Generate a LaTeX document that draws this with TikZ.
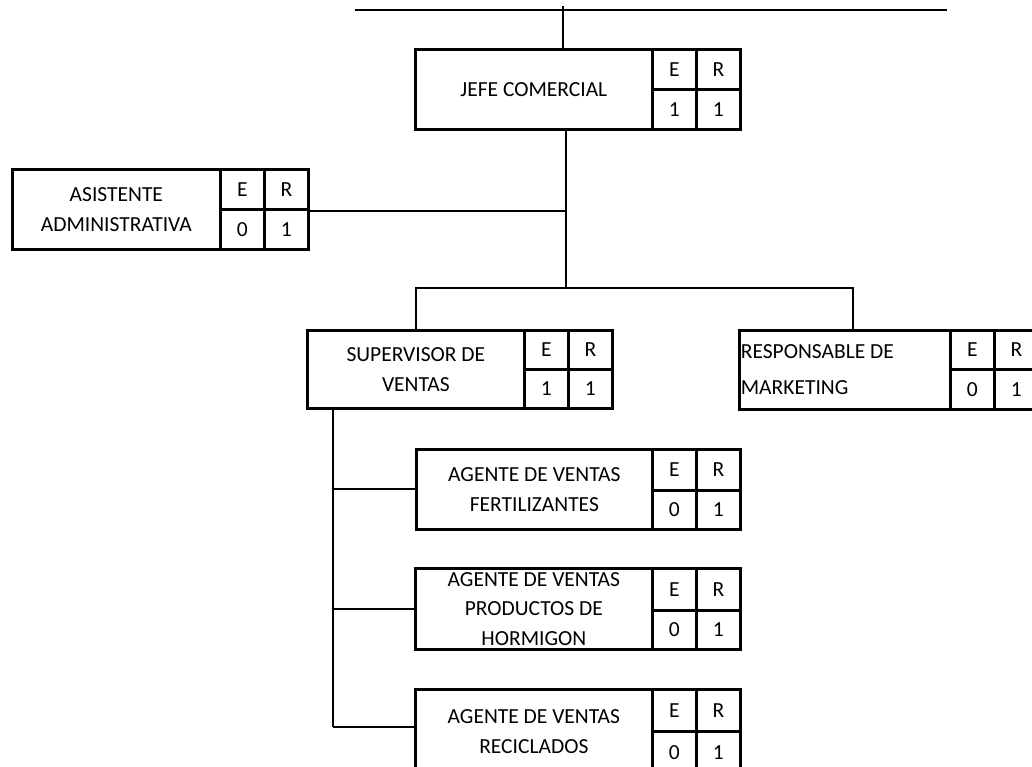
\documentclass[tikz,border=0pt]{standalone}
\usepackage{fontspec}
\setmainfont{Carlito}
\newcommand\lblfont{\fontsize{21.5}{30}\selectfont}

% E/R staffing cells to the right of a position box:
% #1 name, #2 left x, #3 top y, #4 middle y, #5 bottom y, #6 E value, #7 R value
\newcommand\ercells[7]{%
  \node[cell, minimum height={#4-#3}] (#1-eh) at (#2,#3) {E};
  \node[cell, minimum height={#4-#3}] (#1-rh) at (#2+44,#3) {R};
  \node[cell, minimum height={#5-#4}] (#1-ev) at (#2,#4) {#6};
  \node[cell, minimum height={#5-#4}] (#1-rv) at (#2+44,#4) {#7};
}

\begin{document}
\begin{tikzpicture}[x=1pt, y=-1pt,
  posbox/.style={draw, line width=2.7pt, inner sep=0pt, align=center,
                 font=\lblfont, anchor=north west},
  cell/.style={draw, line width=2.7pt, inner sep=0pt, minimum width=44,
               font=\lblfont, anchor=north west},
  conn/.style={line width=2.2pt}]
\useasboundingbox (0,0) rectangle (1032,767);

% positions
\node[posbox, minimum width=237, minimum height=80] (jefe) at (414,48) {JEFE COMERCIAL};
\ercells{jefe}{651}{48}{88}{128}{1}{1}

\node[posbox, minimum width=208, minimum height=80] (asis) at (11,168) {ASISTENTE\\ADMINISTRATIVA};
\ercells{asis}{219}{168}{208}{248}{0}{1}

\node[posbox, minimum width=217, minimum height=78] (sup) at (306,329) {SUPERVISOR DE\\VENTAS};
\ercells{sup}{523}{329}{368}{407}{1}{1}

\node[posbox, minimum width=211, minimum height=79, text width=208, align=flush left,
      inner xsep=1.5pt, font=\fontsize{21.5}{36}\selectfont] (resp) at (738,329)
      {RESPONSABLE DE\\MARKETING};
\ercells{resp}{949}{329}{368}{408}{0}{1}

\node[posbox, minimum width=236, minimum height=80] (ag1) at (415,448) {AGENTE DE VENTAS\\FERTILIZANTES};
\ercells{ag1}{651}{448}{489}{528}{0}{1}

\node[posbox, minimum width=237, minimum height=81, font=\fontsize{21.5}{29.5}\selectfont] (ag2) at (414,567)
      {AGENTE DE VENTAS\\PRODUCTOS DE\\HORMIGON};
\ercells{ag2}{651}{567}{609}{648}{0}{1}

\node[posbox, minimum width=237, minimum height=84] (ag3) at (414,688) {AGENTE DE VENTAS\\RECICLADOS};
\ercells{ag3}{651}{688}{730}{772}{0}{1}

% connectors
\coordinate (topL) at (355,10);
\coordinate (topR) at (947,10);
\coordinate (topJ) at (563,6);
\coordinate (hub) at (566,288);
\coordinate (barR) at (853,288);
\coordinate (trunkEnd) at (333,727);

\draw[conn] (topL) -- (topR);
\draw[conn] (topJ) -- (topJ |- jefe.north);
\draw[conn] (hub |- jefe.south) -- (hub);
\draw[conn] (asis-rh.south east) -- (asis-rh.south east -| hub);
\draw[conn] (sup.north) |- (barR) -- (barR |- resp.north);
\draw[conn] (trunkEnd |- sup.south) -- (trunkEnd);
\draw[conn] (ag1.west -| trunkEnd) -- (ag1.west);
\draw[conn] (ag2.west -| trunkEnd) -- (ag2.west);
\draw[conn] (trunkEnd) -- (trunkEnd -| ag3.west);
\end{tikzpicture}
\end{document}
